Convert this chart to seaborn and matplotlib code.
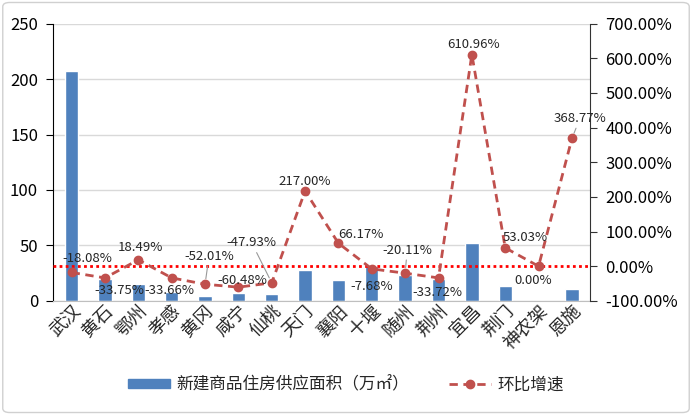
import matplotlib
matplotlib.use("Agg")
import matplotlib.pyplot as plt
import matplotlib.patches as mpatches
from matplotlib.lines import Line2D
import seaborn as sns
import numpy as np
import pandas as pd

cities = ["武汉", "黄石", "鄂州", "孝感", "黄冈", "咸宁", "仙桃", "天门",
          "襄阳", "十堰", "随州", "荆州", "宜昌", "荆门", "神农架", "恩施"]
area = [207, 20, 15, 8, 4, 7, 6, 28, 19, 31, 23, 20, 52, 13, 0, 11]
growth = [-18.08, -33.75, 18.49, -33.66, -52.01, -60.48, -47.93, 217.00,
          66.17, -7.68, -20.11, -33.72, 610.96, 53.03, 0.00, 368.77]
# label offsets in pixels (dx, dy) and whether a leader line is drawn
label_pos = [(16, 14, False), (14, -13, False), (2, 12, False), (-2, -13, False),
             (4, 28, True), (4, 7, False), (-20, 40, True), (0, 10, False),
             (22, 9, False), (0, -18, False), (2, 23, True), (-1, -15, False),
             (2, 10, False), (20, 10, False), (-5, -14, False), (8, 20, True)]

sns.set_style("white")
plt.rcParams['font.family'] = ['Noto Sans CJK SC', 'DejaVu Sans']

bar_color = "#4F81BD"
line_color = "#C0504D"

fig = plt.figure(figsize=(6.92, 4.15), dpi=100)
ax = fig.add_axes([0.077, 0.275, 0.776, 0.668])

df = pd.DataFrame({"city": cities, "area": area})
sns.barplot(data=df, x="city", y="area", color=bar_color, width=0.4,
            saturation=1, ax=ax, zorder=2)
ax.set_ylim(0, 250)
ax.set_yticks(range(0, 251, 50))
ax.set_xlim(-0.55, len(cities) - 0.45)
ax.set_xlabel("")
ax.set_ylabel("")
ax.yaxis.grid(True, color="#d9d9d9", lw=1, zorder=0)
ax.set_axisbelow(True)
ax.tick_params(axis="y", labelsize=12, length=5, direction="out", left=True,
               colors="black", labelcolor="black", pad=6)
ax.tick_params(axis="x", labelsize=13, length=0, pad=1)
for lab in ax.get_xticklabels():
    lab.set_rotation(45)
    lab.set_ha("right")
    lab.set_rotation_mode("anchor")
ax.spines["top"].set_visible(False)
ax.spines["left"].set_color("black")
ax.spines["bottom"].set_color("#bfbfbf")
ax.spines["right"].set_visible(False)

ax2 = ax.twinx()
x = np.arange(len(cities))
ax2.axhline(0, color="red", ls=(0, (1, 1.2)), lw=2, zorder=1)
ax2.plot(x, growth, color=line_color, ls=(0, (3, 2)), lw=2, marker="o",
         markersize=6, zorder=3)
ax2.set_ylim(-100, 700)
ax2.set_yticks(range(-100, 701, 100))
ax2.set_yticklabels([f"{v:.2f}%" for v in range(-100, 701, 100)])
ax2.tick_params(axis="y", labelsize=12, length=5, direction="out", right=True,
                colors="#333333", labelcolor="black", pad=6)
ax2.spines["top"].set_visible(False)
ax2.spines["right"].set_color("#333333")
ax2.spines["left"].set_visible(False)
ax2.spines["bottom"].set_visible(False)

for i, (v, (dx, dy, lead)) in enumerate(zip(growth, label_pos)):
    arrow = dict(arrowstyle="-", color="#999999", lw=0.8, shrinkA=0, shrinkB=4) if lead else None
    ax2.annotate(f"{v:.2f}%", xy=(i, v), xytext=(dx, dy), textcoords="offset pixels",
                 ha="center", va="center", fontsize=9.5, arrowprops=arrow, zorder=4)

handles = [mpatches.Patch(color=bar_color, label="新建商品住房供应面积（万㎡）"),
           Line2D([0], [0], color=line_color, ls=(0, (3, 2)), lw=2, marker="o",
                  markersize=6, label="环比增速")]
fig.legend(handles=handles, loc="center", bbox_to_anchor=(0.5, 0.072), ncol=2,
           frameon=False, fontsize=12, handlelength=2.5, handleheight=0.5,
           handletextpad=0.4, columnspacing=2.4)

border = mpatches.FancyBboxPatch((0.004, 0.006), 0.992, 0.988,
                                 boxstyle="round,pad=0,rounding_size=0.01",
                                 transform=fig.transFigure, fill=False,
                                 ec="#d0d0d0", lw=1)
fig.patches.append(border)

fig.savefig("out.png", dpi=100)
